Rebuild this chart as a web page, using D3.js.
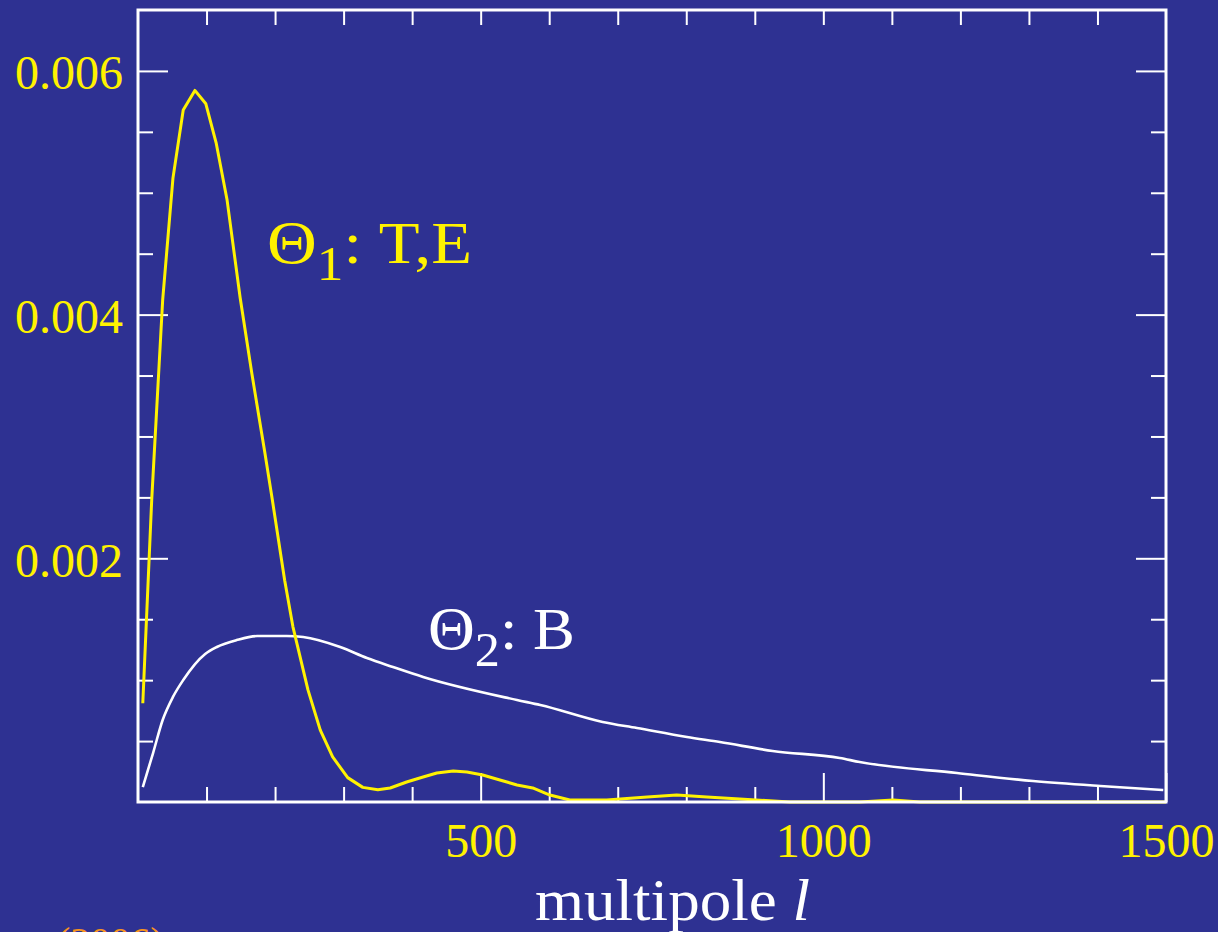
<!DOCTYPE html>
<html>
<head>
<meta charset="utf-8">
<script src="https://cdn.jsdelivr.net/npm/d3@7"></script>
<style>
  html, body { margin: 0; padding: 0; background: #2E3192; overflow: hidden; }
  svg { display: block; }
  text { font-family: "Liberation Serif", "DejaVu Serif", serif; }
</style>
</head>
<body>
<main></main>
<script>
// multipole values and the two curves
let theta1L = [7, 20, 36, 51, 66, 83, 99, 114, 130, 149, 166, 185, 196, 214, 226, 248, 266, 284,
    306, 328, 350, 368, 392, 416, 436, 460, 480, 503, 528, 553, 576, 601, 630, 684, 743, 786,
    830, 878, 951, 1053, 1102, 1141, 1500]
let theta1V = [0.00081, 0.00248, 0.00412, 0.00512, 0.00568, 0.00584, 0.00573, 0.00541, 0.00494,
    0.00414, 0.00352, 0.00287, 0.00248, 0.00182, 0.00144, 0.00092, 0.00059, 0.00037, 0.00020,
    0.00012, 0.00010, 0.000115, 0.000164, 0.000205, 0.000238, 0.000254, 0.000246, 0.000222,
    0.000181, 0.00014, 0.000115, 0.000057, 0.000016, 0.000016, 0.000041, 0.000057, 0.000041,
    0.000025, 0, 0, 0.000016, 0, 0]

let theta2L = [7, 22, 36, 51, 66, 98, 115, 144, 174, 217, 241, 295, 334, 372, 416, 553, 587, 678,
    728, 801, 849, 926, 1024, 1053, 1195, 1306, 1404, 1496]
let theta2V = [0.000123, 0.000402, 0.000673, 0.000862, 0.001001, 0.001215, 0.001272, 0.001329,
    0.001362, 0.001362, 0.001354, 0.001272, 0.001182, 0.001108, 0.001026, 0.000837, 0.000796,
    0.000657, 0.000607, 0.000533, 0.000492, 0.000419, 0.000361, 0.000328, 0.000238, 0.000172,
    0.000131, 0.0000985]

let xLabels = [500, 1000, 1500]
let yLabels = [0.002, 0.004, 0.006]
let xMinor = d3.range(100, 1500, 100)
let yMinor = d3.range(1, 13).map(d => d * 0.0005)

let yellow = '#FFF200'
let bg = '#2E3192'

let svg = d3.select('main')
    .append('svg')
    .attr('width', 1218)
    .attr('height', 932)
    .style('background', bg)

let plotLeft = 138, plotRight = 1166, plotTop = 10, plotBottom = 802

let x = d3.scaleLinear().domain([0, 1500]).range([plotLeft, plotRight])
let y = d3.scaleLinear().domain([0, 0.0065]).range([plotBottom, plotTop])

let isMajorY = d => yLabels.some(v => Math.abs(v - d) < 1e-9)

// inward minor ticks on all four sides
let minorStyle = g => {
    g.select('.domain').remove()
    g.selectAll('.tick line').attr('stroke', 'white').attr('stroke-width', 2)
    g.selectAll('.tick text').remove()
}

svg.append('g').attr('transform', `translate(0,${plotBottom})`)
    .call(d3.axisBottom(x).tickValues(xMinor.filter(d => d % 500 !== 0)).tickSize(-15))
    .call(minorStyle)
svg.append('g').attr('transform', `translate(0,${plotTop})`)
    .call(d3.axisTop(x).tickValues(xMinor).tickSize(-15))
    .call(minorStyle)
svg.append('g').attr('transform', `translate(${plotLeft},0)`)
    .call(d3.axisLeft(y).tickValues(yMinor.filter(d => !isMajorY(d))).tickSize(-15))
    .call(minorStyle)
svg.append('g').attr('transform', `translate(${plotRight},0)`)
    .call(d3.axisRight(y).tickValues(yMinor.filter(d => !isMajorY(d))).tickSize(-15))
    .call(minorStyle)
svg.append('g').attr('transform', `translate(${plotRight},0)`)
    .call(d3.axisRight(y).tickValues(yLabels).tickSize(-30))
    .call(minorStyle)

// major ticks with labels
let xAxis = svg.append('g').attr('transform', `translate(0,${plotBottom})`)
    .call(d3.axisBottom(x).tickValues(xLabels).tickSize(-29).tickPadding(21).tickFormat(d3.format('d')))
xAxis.select('.domain').remove()
xAxis.selectAll('.tick line').attr('stroke', 'white').attr('stroke-width', 2)
xAxis.selectAll('.tick text')
    .attr('fill', yellow)
    .style('font-size', '48px')
    .style('font-family', '"Liberation Serif", serif')

let yAxis = svg.append('g').attr('transform', `translate(${plotLeft},0)`)
    .call(d3.axisLeft(y).tickValues(yLabels).tickSize(-30).tickPadding(15).tickFormat(d3.format('.3f')))
yAxis.select('.domain').remove()
yAxis.selectAll('.tick line').attr('stroke', 'white').attr('stroke-width', 2)
yAxis.selectAll('.tick text')
    .attr('fill', yellow)
    .attr('dy', '0.37em')
    .style('font-size', '48px')
    .style('font-family', '"Liberation Serif", serif')

// curves
let line = d3.line()
    .x(d => x(d[0]))
    .y(d => y(d[1]))

svg.append('path')
    .datum(theta2L.map((l, i) => [l, theta2V[i]]))
    .attr('d', line.curve(d3.curveMonotoneX))
    .attr('fill', 'none')
    .attr('stroke', 'white')
    .attr('stroke-width', 2.6)
    .attr('stroke-linejoin', 'round')

svg.append('path')
    .datum(theta1L.map((l, i) => [l, theta1V[i]]))
    .attr('d', line.curve(d3.curveLinear))
    .attr('fill', 'none')
    .attr('stroke', yellow)
    .attr('stroke-width', 3)
    .attr('stroke-linejoin', 'round')

// frame
svg.append('rect')
    .attr('x', plotLeft)
    .attr('y', plotTop)
    .attr('width', plotRight - plotLeft)
    .attr('height', plotBottom - plotTop)
    .attr('fill', 'none')
    .attr('stroke', 'white')
    .attr('stroke-width', 3)

// curve labels
function curveLabel(xPos, yPos, colour, sub, rest, width) {
    let t = svg.append('text')
        .attr('x', xPos)
        .attr('y', yPos)
        .attr('fill', colour)
        .attr('textLength', width)
        .attr('lengthAdjust', 'spacingAndGlyphs')
        .style('font-size', '60px')
    t.append('tspan').style('font-size', '62px').text('Θ')
    t.append('tspan').attr('dy', 17).style('font-size', '48px').text(sub)
    t.append('tspan').attr('dy', -17).text(rest)
}
curveLabel(267, 263, yellow, '1', ': T,E', 205)
curveLabel(428, 649, 'white', '2', ': B', 147)

// axis title
let title = svg.append('text')
    .attr('x', 535)
    .attr('y', 920)
    .attr('fill', 'white')
    .attr('textLength', 275)
    .attr('lengthAdjust', 'spacingAndGlyphs')
    .style('font-size', '59px')
title.append('tspan').text('multipole ')
title.append('tspan').style('font-style', 'italic').text('l')

// year at the bottom edge, cut off as in the source slide
svg.append('text')
    .attr('x', 57)
    .attr('y', 955)
    .attr('fill', '#F7941D')
    .style('font-size', '40px')
    .text('(2006)')
</script>
</body>
</html>
